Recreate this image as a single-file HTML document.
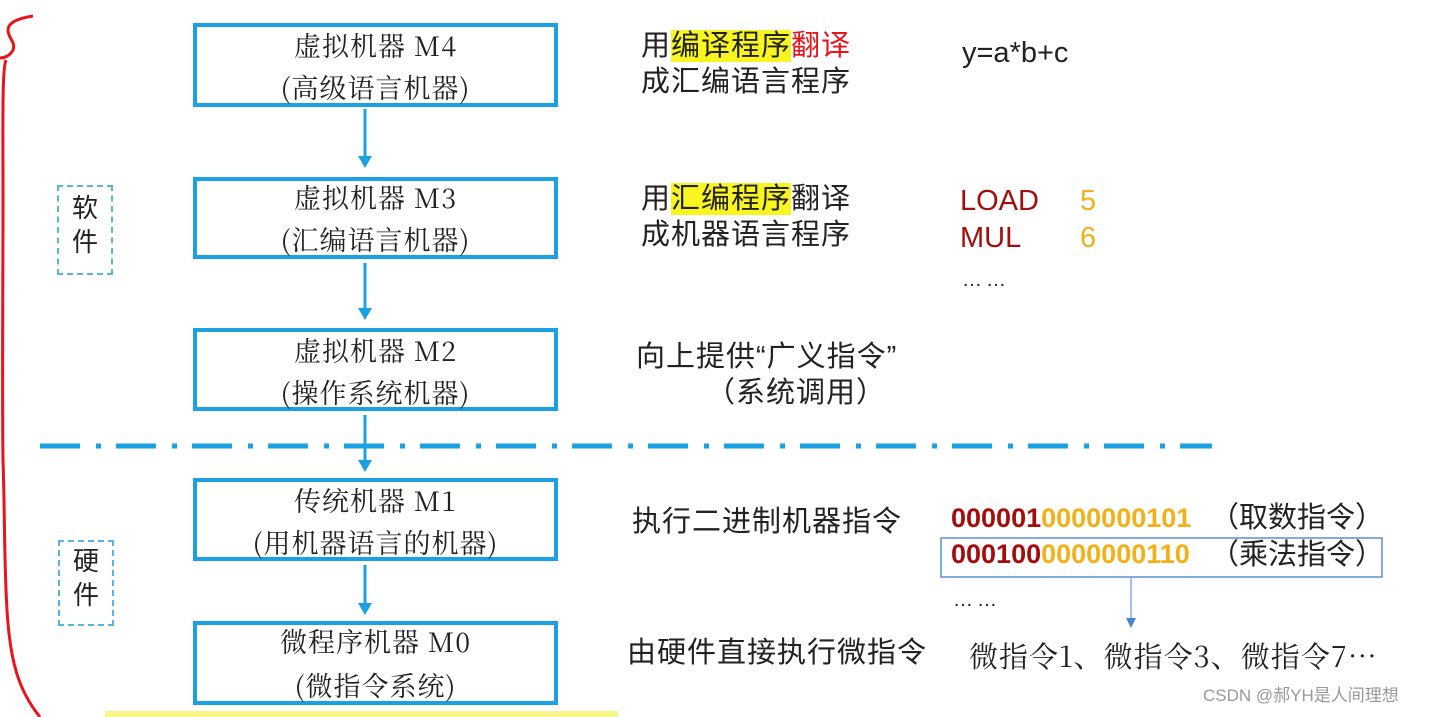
<!DOCTYPE html>
<html><head><meta charset="utf-8">
<style>
html,body{margin:0;padding:0;background:#fff;}
body{width:1434px;height:717px;position:relative;overflow:hidden;font-family:"Liberation Sans","Noto Sans CJK SC",sans-serif;color:#222;}
.box{position:absolute;left:193px;width:357px;border:4px solid #1ba1e2;box-sizing:content-box;}
.bt{position:absolute;left:0;width:100%;text-align:center;font-family:"Noto Serif CJK SC",serif;font-size:27px;letter-spacing:1px;color:#222;white-space:nowrap;line-height:32px;}
.t{position:absolute;white-space:nowrap;font-size:29px;letter-spacing:1px;line-height:36px;color:#222;}
.hl{background:#f8f520;}
.lab{position:absolute;border:2px dashed #5ab4e0;font-size:26px;line-height:34px;text-align:center;width:52px;}
.code{position:absolute;font-family:"Liberation Sans",sans-serif;font-weight:bold;font-size:27px;white-space:nowrap;}
.r{color:#a50d0d}.y{color:#f2b118}
</style></head><body>

<svg width="1434" height="717" style="position:absolute;left:0;top:0">
  <path d="M33,16 C20,18 8,22 8,30 C8,38 16,42 13,50 C10,56 4,58 0,58 M6,60 C2,70 3,120 3,200 C3,300 2,380 3,460 C5,520 4,560 7,610 C10,660 18,690 40,717" fill="none" stroke="#e8141a" stroke-width="3"/>
  <line x1="40" y1="446" x2="1212" y2="446" stroke="#1ba1e2" stroke-width="5" stroke-dasharray="40 16 5 15"/>
  <g stroke="#1ba1e2" stroke-width="3" fill="none">
    <line x1="365" y1="109" x2="365" y2="160"/>
    <line x1="365" y1="263" x2="365" y2="312"/>
    <line x1="365" y1="415" x2="365" y2="462"/>
    <line x1="365" y1="565" x2="365" y2="605"/>
  </g>
  <g fill="#1ba1e2">
    <polygon points="358,156 372,156 365,168"/>
    <polygon points="358,308 372,308 365,320"/>
    <polygon points="358,460 372,460 365,472"/>
    <polygon points="358,603 372,603 365,615"/>
  </g>
  <rect x="941" y="538" width="441" height="39" fill="none" stroke="#5b8fd0" stroke-width="1.5"/>
  <line x1="1131" y1="577" x2="1131" y2="620" stroke="#6a9ad6" stroke-width="1.2"/>
  <polygon points="1126,618 1136,618 1131,628" fill="#4a86d0"/>
  <rect x="105" y="711" width="513" height="6" fill="#f8f88a"/>
</svg>

<div class="box" style="top:23px;height:76px"><div class="bt" style="top:2px">虚拟机器 M4</div><div class="bt" style="top:44px">(高级语言机器)</div></div>
<div class="box" style="top:177px;height:74px"><div class="bt" style="top:0px">虚拟机器 M3</div><div class="bt" style="top:42px">(汇编语言机器)</div></div>
<div class="box" style="top:328px;height:75px"><div class="bt" style="top:2px">虚拟机器 M2</div><div class="bt" style="top:44px">(操作系统机器)</div></div>
<div class="box" style="top:478px;height:75px"><div class="bt" style="top:2px">传统机器 M1</div><div class="bt" style="top:44px">(用机器语言的机器)</div></div>
<div class="box" style="top:621px;height:76px"><div class="bt" style="top:0px">微程序机器 M0</div><div class="bt" style="top:44px">(微指令系统)</div></div>

<div class="lab" style="left:57px;top:185px;height:82px;padding-top:4px">软<br>件</div>
<div class="lab" style="left:58px;top:540px;height:80px;padding-top:2px">硬<br>件</div>

<div class="t" style="left:641px;top:28px">用<span class="hl">编译程序</span><span style="color:#e8141a">翻译</span></div>
<div class="t" style="left:641px;top:64px">成汇编语言程序</div>
<div class="t" style="left:641px;top:181px">用<span class="hl">汇编程序</span>翻译</div>
<div class="t" style="left:641px;top:217px">成机器语言程序</div>
<div class="t" style="left:636px;top:339px">向上提供“广义指令”</div>
<div class="t" style="left:706px;top:375px">（系统调用）</div>
<div class="t" style="left:632px;top:504px">执行二进制机器指令</div>
<div class="t" style="left:627px;top:635px">由硬件直接执行微指令</div>

<div class="t" style="left:962px;top:35px;font-size:29px;letter-spacing:0">y=a*b+c</div>
<div class="t r" style="left:960px;top:183px;font-size:29px;letter-spacing:0">LOAD</div>
<div class="t y" style="left:1080px;top:183px;font-size:29px">5</div>
<div class="t r" style="left:960px;top:220px;font-size:29px;letter-spacing:0">MUL</div>
<div class="t y" style="left:1080px;top:220px;font-size:29px">6</div>
<div class="t" style="left:962px;top:262px;font-size:20px;letter-spacing:4px">……</div>

<div class="code" style="left:951px;top:503px"><span class="r">000001</span><span class="y">0000000101</span></div>
<div class="t" style="left:1210px;top:500px;font-size:29px;letter-spacing:0">（取数指令）</div>
<div class="code" style="left:951px;top:539px"><span class="r">000100</span><span class="y">0000000110</span></div>
<div class="t" style="left:1210px;top:537px;font-size:29px;letter-spacing:0">（乘法指令）</div>
<div class="t" style="left:953px;top:582px;font-size:20px;letter-spacing:4px">……</div>
<div class="t" style="left:969px;top:638px;font-family:'Noto Serif CJK SC',serif;font-size:29px;letter-spacing:1px">微指令1、微指令3、微指令7…</div>

<div class="t" style="left:1203px;top:685px;font-size:17px;letter-spacing:0;line-height:22px;color:#999">CSDN @郝YH是人间理想</div>
</body></html>
